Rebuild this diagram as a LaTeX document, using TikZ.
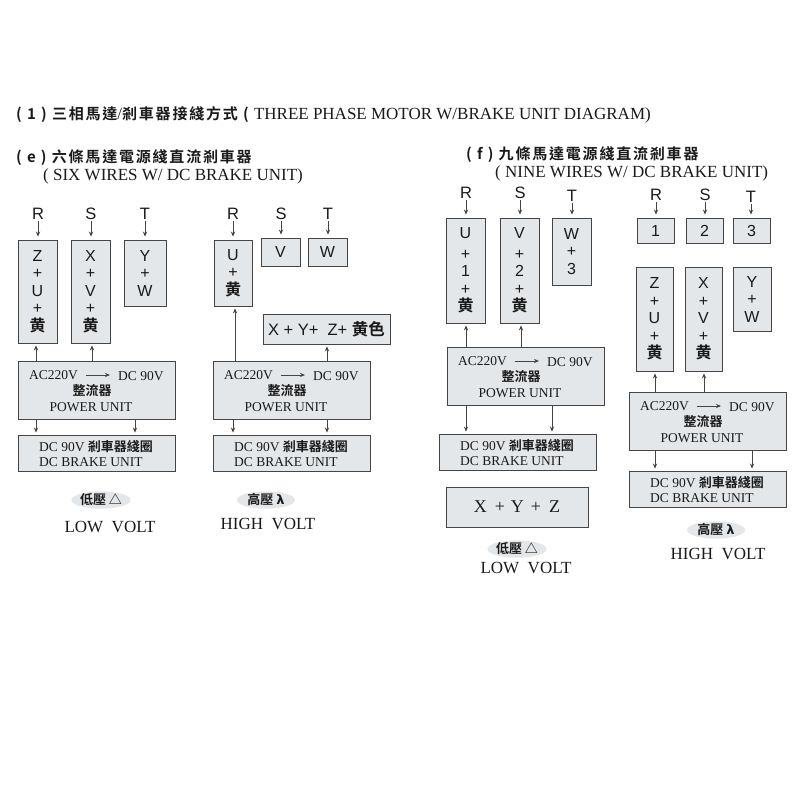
\documentclass[tikz,border=0pt]{standalone}
\usepackage{fontspec}
\setmainfont{Liberation Serif}
\setsansfont{Liberation Sans}
\newfontfamily\cjk[BoldFont={Noto Sans CJK TC Bold}]{Noto Sans CJK TC}
\newfontfamily\cjkh[LetterSpace=12,BoldFont={Noto Sans CJK TC Bold},BoldFeatures={LetterSpace=12}]{Noto Sans CJK TC}
\newfontfamily\greekf{DejaVu Sans}
\usetikzlibrary{arrows.meta,shapes.geometric}
\definecolor{boxfill}{HTML}{E4E7EA}
\definecolor{boxline}{HTML}{454545}
\definecolor{ink}{HTML}{1A1A1A}
\newcommand{\hu}{{\cjk\bfseries 黄}}
\newcommand{\fsz}[2]{\fontsize{#1}{#2}\selectfont}
\newcommand{\hc}[1]{{\cjkh\bfseries\fsz{15}{15}#1}}
\tikzset{
  wirebox/.style={draw=boxline,fill=boxfill,line width=0.9pt,inner sep=0pt,align=center,text=ink,font=\sffamily\fsz{16}{17.5}},
  phase/.style={inner sep=0pt,text=ink,font=\sffamily\fsz{16.5}{17}},
  tip/.style={-{Stealth[length=5pt,width=4.2pt]}},
  conn/.style={draw=boxline,line width=0.7pt,tip,shorten >=3pt,shorten <=1pt},
  connup/.style={draw=boxline,line width=0.7pt,tip,shorten >=2pt},
  serifline/.style={inner sep=0pt,text=ink,font=\rmfamily\fsz{13.5}{13.5}},
  heading/.style={inner sep=0pt,anchor=west,text=ink,font=\rmfamily\fsz{17}{17}},
  pill/.style={ellipse,fill=boxfill,minimum width=58pt,minimum height=17pt,inner sep=0pt,text=ink,font=\cjk\bfseries\fsz{13}{13}},
  voltlabel/.style={inner sep=0pt,text=ink,font=\rmfamily\fsz{17}{17}},
}
% name, left, top, right, bottom
\newcommand{\wbox}[6]{\node[wirebox,minimum width=#4-#2,minimum height=#5-#3] (#1) at ({(#2+#4)/2},{(#3+#5)/2}) {#6};}
\newcommand{\powerbox}[3]{%
  \node[wirebox,minimum width=157pt,minimum height=58pt] (#1) at (#2+78.5,#3+29) {};
  \node[serifline,anchor=west] (#1ac) at (#2+11,#3+14) {AC220V};
  \node[serifline,anchor=west] (#1dc) at (#2+100,#3+15) {DC 90V};
  \coordinate (#1s) at (#2+68,#3+14);
  \coordinate (#1e) at (#2+92,#3+14);
  \draw[boxline,line width=0.7pt,tip] (#1s) -- (#1e);
  \node[inner sep=0pt,text=ink,font=\cjk\bfseries\fsz{13}{13}] at (#2+74,#3+30) {整流器};
  \node[serifline] at (#2+73,#3+46) {POWER UNIT};
}
\newcommand{\brakebox}[3]{%
  \node[wirebox,minimum width=157pt,minimum height=36pt] (#1) at (#2+78.5,#3+18) {};
  \node[serifline,anchor=west] at (#2+21,#3+12) {DC 90V {\cjk\bfseries\fsz{13}{13}剎車器綫圈}};
  \node[serifline,anchor=west] at (#2+21,#3+27) {DC BRAKE UNIT};
}
\begin{document}
\begin{tikzpicture}[x=1pt,y=-1pt]
\useasboundingbox[fill=white] (0,0) rectangle (800,800);

% headings
\node[heading] (title) at (16,114.5) {\hc{( 1 ) 三相馬達}/\hc{剎車器接綫方式 ( }THREE PHASE MOTOR W/BRAKE UNIT DIAGRAM)};
\node[heading] (heade) at (16,157.5) {\hc{( e ) 六條馬達電源綫直流剎車器}};
\node[heading] (heade2) at (43,176.5) {( SIX WIRES W/ DC BRAKE UNIT)};
\node[heading] (headf) at (466,155) {\hc{( f ) 九條馬達電源綫直流剎車器}};
\node[heading] (headf2) at (495,173) {( NINE WIRES W/ DC BRAKE UNIT)};

% panel e, low volt
\node[phase] (r1) at (38,214) {R};
\node[phase] (s1) at (91,214) {S};
\node[phase] (t1) at (145,214) {T};
\wbox{zu}{18}{240}{57}{343}{Z\\+\\U\\+\\\hu}
\wbox{xv}{71}{240}{110}{343}{X\\+\\V\\+\\\hu}
\wbox{yw}{124}{240}{166}{306}{Y\\+\\W}
\powerbox{p1}{18}{361}
\brakebox{b1}{18}{435}
\draw[conn] (r1.south) -- (r1.south |- zu.north);
\draw[conn] (s1.south) -- (s1.south |- xv.north);
\draw[conn] (t1.south) -- (t1.south |- yw.north);
\coordinate (a1) at (36,0); \coordinate (a2) at (92,0); \coordinate (a3) at (135,0);
\draw[connup] (a1 |- p1.north) -- (a1 |- zu.south);
\draw[connup] (a2 |- p1.north) -- (a2 |- xv.south);
\draw[connup] (a1 |- p1.south) -- (a1 |- b1.north);
\draw[connup] (a3 |- p1.south) -- (a3 |- b1.north);
\node[pill] (pl1) at (101,500) {低壓 △};
\node[voltlabel] (vl1) at (110,527) {LOW\ \ VOLT};

% panel e, high volt
\node[phase] (r2) at (233,214) {R};
\node[phase] (s2) at (281,214) {S};
\node[phase] (t2) at (328,214) {T};
\wbox{u2}{214}{240}{252}{306}{U\\+\\\hu}
\wbox{v2}{261}{238}{300}{266}{V}
\wbox{w2}{308}{238}{347}{266}{W}
\wbox{sum2}{263}{314}{390}{344}{\fsz{16.5}{17}X + Y+\ \ Z+ {\cjk\bfseries 黄色}}
\powerbox{p2}{213}{361}
\brakebox{b2}{213}{435}
\draw[conn] (r2.south) -- (r2.south |- u2.north);
\draw[conn] (s2.south) -- (s2.south |- v2.north);
\draw[conn] (t2.south) -- (t2.south |- w2.north);
\coordinate (c1) at (235,0); \coordinate (c2) at (327,0); \coordinate (c3) at (233,0);
\draw[connup] (c1 |- p2.north) -- (c1 |- u2.south);
\draw[connup] (c2 |- p2.north) -- (c2 |- sum2.south);
\draw[connup] (c3 |- p2.south) -- (c3 |- b2.north);
\draw[connup] (c2 |- p2.south) -- (c2 |- b2.north);
\node[pill] (pl2) at (266,500) {高壓 {\greekf λ}};
\node[voltlabel] (vl2) at (268,524) {HIGH\ \ VOLT};

% panel f, low volt
\node[phase] (r3) at (466,193) {R};
\node[phase] (s3) at (520,193) {S};
\node[phase] (t3) at (572,196) {T};
\wbox{u3}{446}{218}{485}{323}{U\\[3pt]+\\1\\+\\\hu}
\wbox{v3}{500}{218}{539}{323}{V\\[3pt]+\\2\\+\\\hu}
\wbox{w3}{552}{218}{591}{285}{W\\+\\3}
\powerbox{p3}{447}{347}
\brakebox{b3}{439}{434}
\wbox{sum3}{446}{487}{588}{527}{\rmfamily\fsz{18}{18}X\hspace{8pt}+\hspace{6pt}Y\hspace{7pt}+\hspace{8pt}Z}
\draw[conn] (r3.south) -- (r3.south |- u3.north);
\draw[conn] (s3.south) -- (s3.south |- v3.north);
\draw[conn] (t3.south) -- (t3.south |- w3.north);
\coordinate (d1) at (466,0); \coordinate (d2) at (521,0); \coordinate (d3) at (552,0);
\draw[connup] (d1 |- p3.north) -- (d1 |- u3.south);
\draw[connup] (d2 |- p3.north) -- (d2 |- v3.south);
\draw[connup] (d1 |- p3.south) -- (d1 |- b3.north);
\draw[connup] (d3 |- p3.south) -- (d3 |- b3.north);
\node[pill] (pl3) at (517,549) {低壓 △};
\node[voltlabel] (vl3) at (526,568) {LOW\ \ VOLT};

% panel f, high volt
\node[phase] (r4) at (656,195) {R};
\node[phase] (s4) at (705,195) {S};
\node[phase] (t4) at (751,197) {T};
\wbox{n1}{637}{218}{674}{243}{1}
\wbox{n2}{686}{218}{723}{243}{2}
\wbox{n3}{733}{218}{770}{243}{3}
\wbox{zu4}{636}{267}{673}{371}{Z\\+\\U\\+\\\hu}
\wbox{xv4}{685}{267}{722}{371}{X\\+\\V\\+\\\hu}
\wbox{yw4}{733}{267}{771}{331}{Y\\+\\W}
\powerbox{p4}{629}{392}
\brakebox{b4}{629}{471}
\draw[conn] (r4.south) -- (r4.south |- n1.north);
\draw[conn] (s4.south) -- (s4.south |- n2.north);
\draw[conn] (t4.south) -- (t4.south |- n3.north);
\coordinate (f1) at (655,0); \coordinate (f2) at (704,0); \coordinate (f3) at (752,0);
\draw[connup] (f1 |- p4.north) -- (f1 |- zu4.south);
\draw[connup] (f2 |- p4.north) -- (f2 |- xv4.south);
\draw[connup] (f1 |- p4.south) -- (f1 |- b4.north);
\draw[connup] (f3 |- p4.south) -- (f3 |- b4.north);
\node[pill] (pl4) at (716,530) {高壓 {\greekf λ}};
\node[voltlabel] (vl4) at (718,554) {HIGH\ \ VOLT};
\end{tikzpicture}
\end{document}
